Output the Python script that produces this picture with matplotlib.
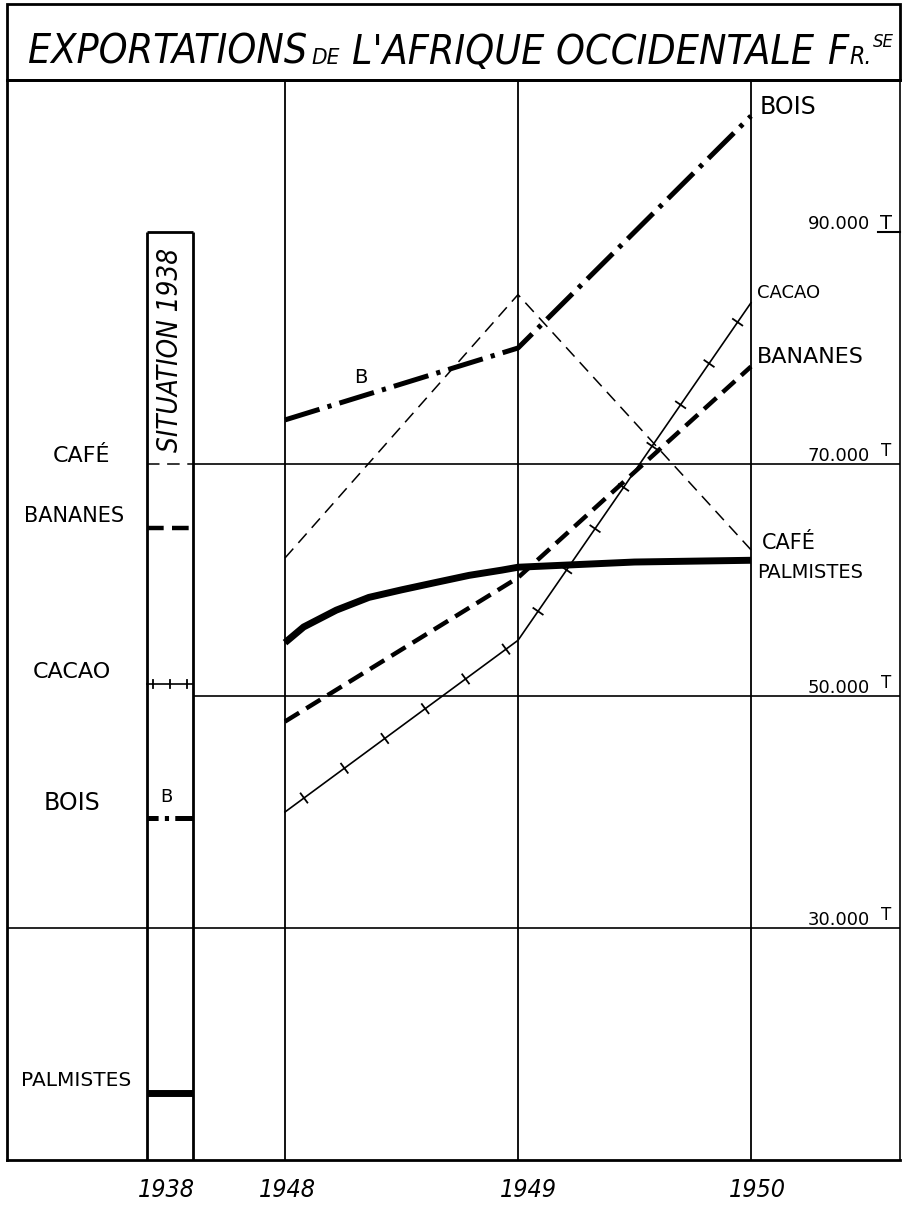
import matplotlib
matplotlib.use('Agg')
import matplotlib.pyplot as plt
import matplotlib.patheffects as pe
from matplotlib import font_manager
from matplotlib.font_manager import FontProperties
from matplotlib.patches import Rectangle
import numpy as np

W, H = 903, 1206

# tonnages (T)
years = ['1948', '1949', '1950']
bois = [73800, 80000, 100000]
cafe = [61900, 84600, 62600]
cacao = [40000, 54800, 83900]
bananes = [47800, 60200, 78400]
# palmistes is a smooth curve, read at more points
palm_x = [0, 0.08, 0.22, 0.36, 0.5, 0.65, 0.79, 0.93, 1, 1.5, 2]
palmistes = [54600, 55950, 57400, 58500, 59150, 59800, 60400, 60850, 61100, 61550, 61700]

# situation 1938
products = ['CAFÉ', 'BANANES', 'CACAO', 'BOIS', 'PALMISTES']
tonnes_1938 = [70000, 64500, 51000, 39500, 15800]

scale_t = [90000, 70000, 50000, 30000]
scale_lbl = ['90.000', '70.000', '50.000', '30.000']


def pick_condensed():
    best = None
    for f in font_manager.fontManager.ttflist:
        tag = f'{f.name} {f.stretch}'.lower()
        if 'narrow' not in tag and 'condensed' not in tag:
            continue
        w = f.weight if isinstance(f.weight, int) else (400 if str(f.weight).lower() in ('normal', 'regular', 'book') else 700)
        if w > 500:
            continue
        if best is None or (f.style != 'normal' and best.style == 'normal'):
            best = f
    return best


cond = pick_condensed()
if cond is not None:
    title_fp = FontProperties(fname=cond.fname)
else:
    title_fp = FontProperties(family='DejaVu Sans', style='oblique')

plt.rcParams['lines.scale_dashes'] = False
plt.rcParams['font.family'] = ['DejaVu Sans']

fig = plt.figure(figsize=(W / 100, H / 100), dpi=100)
ax = fig.add_axes([7 / W, (H - 1160) / H, 893 / W, 1080 / H])
ax.set_xlim((7 - 285) / 233, (900 - 285) / 233)
ax.set_ylim(10000, 10000 + 1080 * 20000 / 232)
ax.set_xticks([])
ax.set_yticks([])
for s in ['left', 'bottom', 'top']:
    ax.spines[s].set_linewidth(2)
ax.spines['right'].set_linewidth(1.2)

xs = np.arange(len(years))
box_l, box_r = (147 - 285) / 233, (193 - 285) / 233
xmax = ax.get_xlim()[1]

# grid
ax.vlines(xs, 10000, ax.get_ylim()[1], color='k', lw=1.3)
ax.hlines(30000, ax.get_xlim()[0], xmax, color='k', lw=1.2)
ax.hlines([50000, 70000], box_r, xmax, color='k', lw=1.2)
# 1938 column
ax.vlines([box_l, box_r], 10000, 90000, color='k', lw=2)
ax.hlines(90000, box_l, box_r, color='k', lw=2)

k = 'black'
st_bois = dict(color=k, lw=3.6, dashes=[26, 6, 3, 6], dash_capstyle='butt')
st_cafe = dict(color=k, lw=1.1, dashes=[9, 5.5], dash_capstyle='butt')
st_ban = dict(color=k, lw=3.2, dashes=[12, 6], dash_capstyle='butt')
st_palm = dict(color=k, lw=5, solid_capstyle='butt')
st_cacao = dict(color=k, lw=1.2)


def ticked(sp, ln):
    return [pe.Normal(),
            pe.TickedStroke(spacing=sp, angle=90, length=ln, linewidth=1.3),
            pe.TickedStroke(spacing=sp, angle=-90, length=ln, linewidth=1.3)]


ax.plot(xs, bois, zorder=3, **st_bois)
ax.plot(xs, cafe, zorder=3, **st_cafe)
ax.plot(xs, bananes, zorder=3, **st_ban)
ax.plot(palm_x, palmistes, zorder=3, solid_joinstyle='round', **st_palm)
ax.plot(xs, cacao, zorder=3, path_effects=ticked(34, 0.12), **st_cacao)

# short legend strokes inside the 1938 column (bois needs a shorter dash-dot)
st_bois_short = dict(st_bois, dashes=[8, 4.5, 3, 4.5, 20])
styles_1938 = [st_cafe, st_ban, st_cacao, st_bois_short, st_palm]
for name, v, st in zip(products, tonnes_1938, styles_1938):
    extra = {'path_effects': ticked(8.3, 0.35)} if name == 'CACAO' else {}
    ax.plot([box_l, box_r], [v, v], zorder=3, **st, **extra)


def ftext(x, y, s, **kw):
    return fig.text(x / W, 1 - y / H, s, **kw)


# left labels
ftext(82, 456, 'CAFÉ', ha='center', va='center', size=16)
ftext(74, 516, 'BANANES', ha='center', va='center', size=15)
ftext(72, 672, 'CACAO', ha='center', va='center', size=16)
ftext(72, 803, 'BOIS', ha='center', va='center', size=17)
ftext(76, 1080, 'PALMISTES', ha='center', va='center', size=14.5)
ftext(166, 797, 'B', ha='center', va='center', size=13)
ftext(361, 377, 'B', ha='center', va='center', size=14)

# right labels
ftext(760, 107, 'BOIS', ha='left', va='center', size=17)
ftext(757, 293, 'CACAO', ha='left', va='center', size=13)
ftext(757, 357, 'BANANES', ha='left', va='center', size=16)
ftext(762, 543, 'CAFÉ', ha='left', va='center', size=15)
ftext(757, 572, 'PALMISTES', ha='left', va='center', size=14)

# tonnage scale on the right
for t, lbl in zip(scale_t, scale_lbl):
    yp = 1160 - (t - 10000) * 232 / 20000
    ftext(870, yp - 3, lbl, ha='right', va='baseline', size=13)
    if t == 90000:
        ftext(886, yp - 3, 'T', ha='center', va='baseline', size=14)
        fig.add_artist(plt.Line2D([878 / W, 900 / W], [1 - yp / H] * 2, color='k', lw=1.5))
    else:
        ftext(886, yp - 8, 'T', ha='center', va='baseline', size=12)

# situation 1938
sit = ftext(170, 350, 'SITUATION 1938', ha='center', va='center', rotation=90,
            fontproperties=title_fp, size=20)

# years
for x, lbl in zip([166, 287, 528, 757], ['1938'] + years):
    ftext(x, 1190, lbl, ha='center', va='center', fontproperties=title_fp, size=18)

# title box
fig.add_artist(Rectangle((7 / W, (H - 80) / H), 893 / W, 76 / H, transform=fig.transFigure,
                         fill=False, lw=2, ec='k'))

renderer = fig.canvas.get_renderer()
pieces = [("EXPORTATIONS", 1.0, 0, 0), ("DE", 0.55, 0, 4),
          ("L'AFRIQUE OCCIDENTALE", 1.0, 0, 12), ("F", 1.0, 0, 14),
          ("R.", 0.6, 0, 1), ("SE", 0.45, 17, 1)]


def lay_title(size):
    items, x = [], 28
    for s, f, up, gap in pieces:
        x += gap
        t = fig.text(x / W, 1 - (64 - up) / H, s, fontproperties=title_fp, size=size * f,
                     va='baseline', ha='left', style='oblique')
        items.append(t)
        x = t.get_window_extent(renderer).x1
    return items, x


size = 34
items, xend = lay_title(size)
for _ in range(2):
    for t in items:
        t.remove()
    size *= (893 - 28) / (xend - 28)
    items, xend = lay_title(size)

fig.savefig('out.png', dpi=100)
